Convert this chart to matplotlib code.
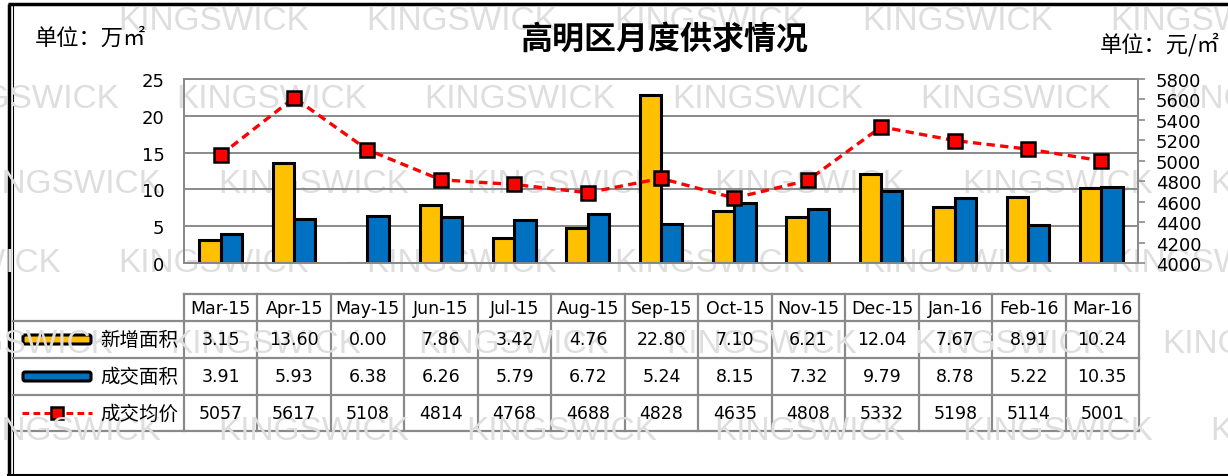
import numpy as np
import matplotlib.pyplot as plt
from matplotlib.patches import FancyBboxPatch

plt.rcParams['font.family'] = ['DejaVu Sans', 'Noto Sans CJK SC']

# data
months = ["Mar-15", "Apr-15", "May-15", "Jun-15", "Jul-15", "Aug-15", "Sep-15",
          "Oct-15", "Nov-15", "Dec-15", "Jan-16", "Feb-16", "Mar-16"]
new_area = [3.15, 13.60, 0.00, 7.86, 3.42, 4.76, 22.80, 7.10, 6.21, 12.04, 7.67, 8.91, 10.24]
deal_area = [3.91, 5.93, 6.38, 6.26, 5.79, 6.72, 5.24, 8.15, 7.32, 9.79, 8.78, 5.22, 10.35]
avg_price = [5057, 5617, 5108, 4814, 4768, 4688, 4828, 4635, 4808, 5332, 5198, 5114, 5001]
series_names = ["新增面积", "成交面积", "成交均价"]

W, H = 1228, 477
fig = plt.figure(figsize=(W / 100, H / 100), dpi=100)

# background layer: watermark, frame, table, texts (pixel coords)
bg = fig.add_axes([0, 0, 1, 1], zorder=0)
bg.set_xlim(0, W)
bg.set_ylim(H, 0)
bg.axis("off")

wm_rows = [(22, 118), (100, -72), (185, -30), (264, -130), (345, -78), (432, -30)]
for yy, x0 in wm_rows:
    for k in range(7):
        bg.text(x0 + k * 248, yy, "KINGSWICK", fontsize=24, color="#dedede",
                family="Liberation Sans", ha="left", va="center")

# outer frame
bg.plot([8, W], [5, 5], color="black", lw=2.5, solid_capstyle="butt")
bg.plot([9, 9], [5, H], color="black", lw=2.5, solid_capstyle="butt")
bg.plot([12.5, 12.5], [5, H], color="black", lw=0.8)
bg.plot([8, W], [476, 476], color="black", lw=1.5)

# titles / units
cjk = ["Noto Sans CJK SC", "DejaVu Sans"]
bg.text(664, 40, "高明区月度供求情况", fontsize=23, fontweight="bold",
        family=cjk, ha="center", va="center")
bg.text(35, 38, "单位：万㎡", fontsize=16, family=cjk, ha="left", va="center")
bg.text(1220, 45, "单位：元/㎡", fontsize=16, family=cjk, ha="right", va="center")

# data table
tl, tr = 184, 1139
row_y = [295, 322, 359, 396, 432]
n = len(months)
cw = (tr - tl) / n
gc = "#8a8a8a"
for i in range(n + 1):
    bg.plot([tl + i * cw] * 2, [row_y[0], row_y[-1]], color=gc, lw=1.6)
bg.plot([tl, tr], [row_y[0]] * 2, color=gc, lw=1.6)
for yy in row_y[1:]:
    bg.plot([12.5, tr], [yy, yy], color=gc, lw=1.6)

def cy(r):
    return (row_y[r] + row_y[r + 1]) / 2

for i, m in enumerate(months):
    xc = tl + (i + 0.5) * cw
    bg.text(xc, cy(0) + 1, m, fontsize=12.5, ha="center", va="center")
    bg.text(xc, cy(1), f"{new_area[i]:.2f}", fontsize=12.5, ha="center", va="center")
    bg.text(xc, cy(2), f"{deal_area[i]:.2f}", fontsize=12.5, ha="center", va="center")
    bg.text(xc, cy(3), f"{avg_price[i]}", fontsize=12.5, ha="center", va="center")

yellow, blue = "#FFC000", "#0070C0"
for r, col in [(1, yellow), (2, blue)]:
    bg.add_patch(FancyBboxPatch((23, cy(r) - 4.5), 68, 9,
                                boxstyle="round,pad=0,rounding_size=2",
                                fc=col, ec="black", lw=2.2))
bg.plot([22, 92], [cy(3)] * 2, color="red", lw=2.2, ls=(0, (2.2, 1.4)))
bg.plot([57], [cy(3)], marker="s", ms=9, mfc="red", mec="black", mew=1.8)
for r, name in enumerate(series_names, start=1):
    bg.text(100, cy(r), name, fontsize=14, family=cjk, ha="left", va="center")

# chart
ax = fig.add_axes([184 / W, (H - 264) / H, (1138 - 184) / W, 184 / H], zorder=1)
ax.patch.set_alpha(0)
x = np.arange(n)
bw = 0.29
ax.bar(x - bw / 2, new_area, bw, color=yellow, edgecolor="black", lw=2.2, zorder=3)
ax.bar(x + bw / 2, deal_area, bw, color=blue, edgecolor="black", lw=2.2, zorder=3)
ax.set_xlim(-0.5, n - 0.5)
ax.set_ylim(0, 25)
ax.set_yticks(range(0, 26, 5))
ax.set_xticks([])
ax.yaxis.grid(True, color=gc, lw=1.4, zorder=0)
ax.set_axisbelow(True)
ax.tick_params(axis="y", length=0, pad=14, labelsize=13)
for s in ["left", "bottom", "right", "top"]:
    ax.spines[s].set_color(gc)
    ax.spines[s].set_linewidth(1.4)

ax2 = ax.twinx()
ax2.plot(x, avg_price, color="red", lw=2.4, ls=(0, (2.5, 1.6)),
         marker="s", ms=10, mfc="red", mec="black", mew=1.8, zorder=5)
ax2.set_ylim(4000, 5800)
ax2.set_yticks(range(4000, 5801, 200))
ax2.tick_params(axis="y", length=5, width=1.2, color=gc, pad=8, labelsize=13)
for s in ["left", "bottom", "right", "top"]:
    ax2.spines[s].set_color(gc)
    ax2.spines[s].set_linewidth(1.4)

fig.savefig("out.png", dpi=100)
